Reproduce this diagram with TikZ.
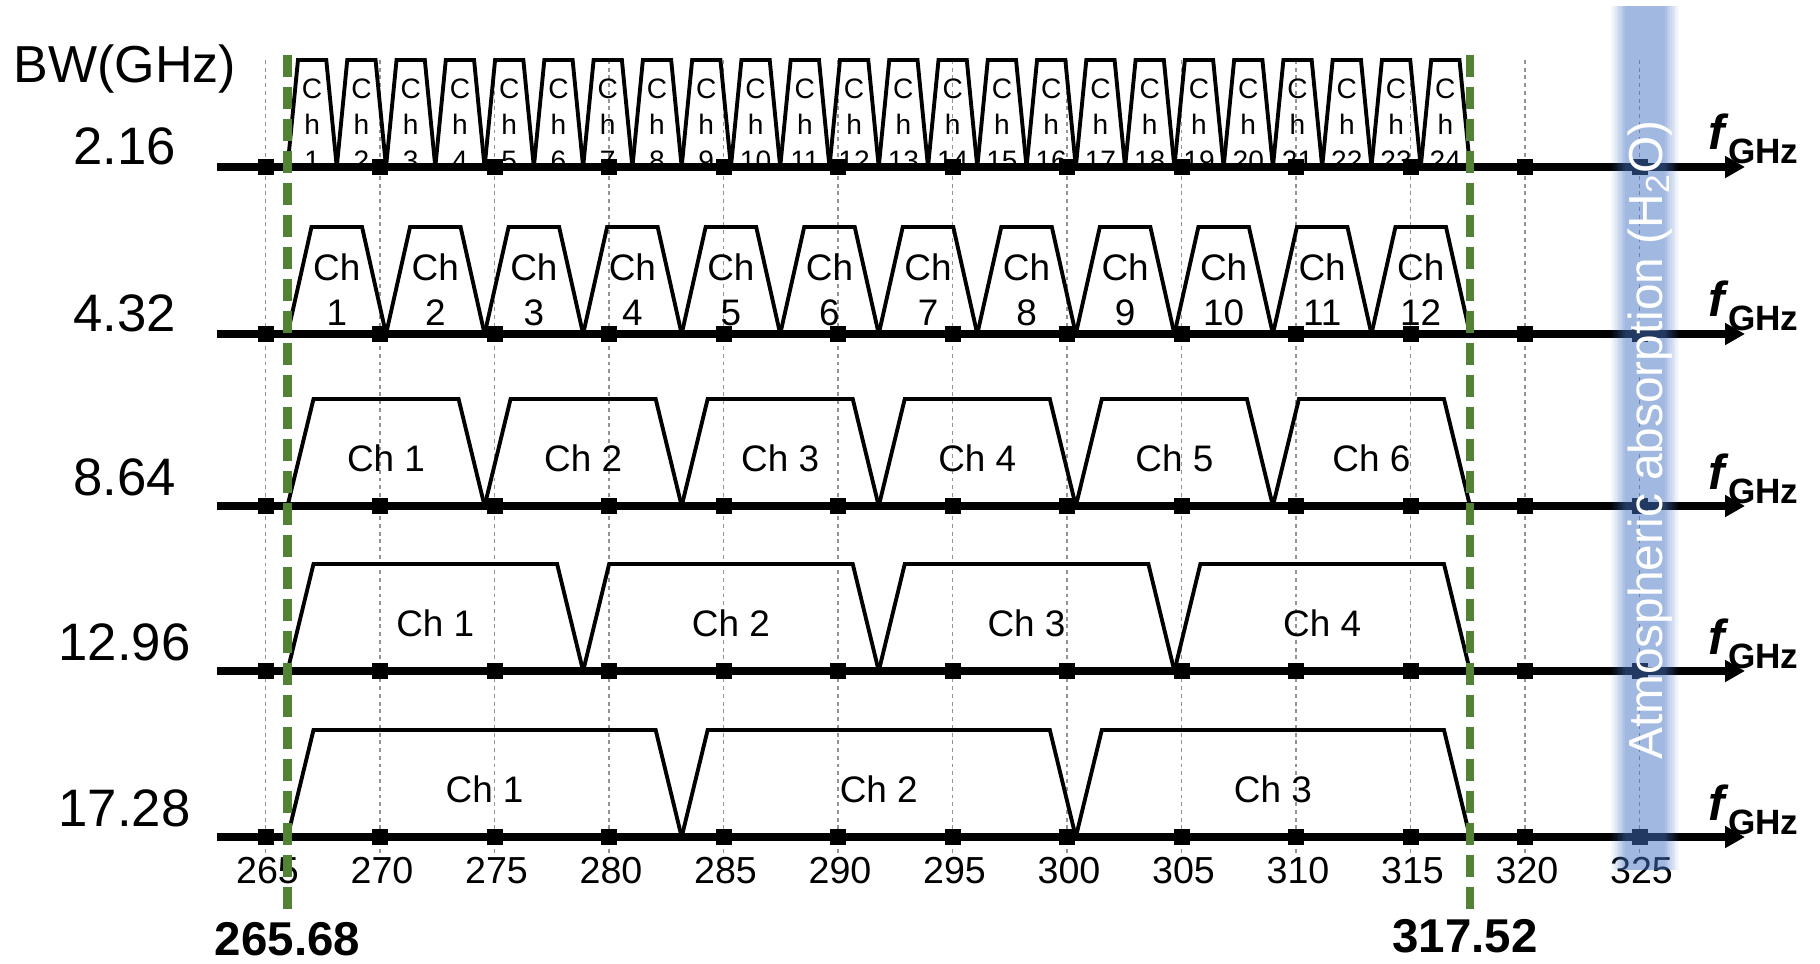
\documentclass[tikz,border=0pt]{standalone}
\usepackage{fontspec}
\setmainfont{Liberation Sans}
\usetikzlibrary{arrows.meta}
\definecolor{bandblue}{RGB}{68,114,196}
\definecolor{limitgreen}{RGB}{84,130,53}

\begin{document}
\begin{tikzpicture}[line join=miter,
  grid/.style={gray!85,line width=0.35pt,dash pattern=on 1.1pt off 1.1pt},
  chan/.style={line width=1.1pt},
  axisline/.style={line width=2pt,-{Triangle[length=0.2cm,width=0.21cm]}},
  limit/.style={limitgreen,line width=2.4pt,dash pattern=on 0.22cm off 0.10cm},
  bwlab/.style={inner sep=0,font=\fontsize{15}{15}\selectfont},
  chlab/.style={inner sep=0,font=\fontsize{10.5}{12.8}\selectfont,align=center},
  tinylab/.style={inner sep=0,font=\fontsize{8}{10.3}\selectfont,align=center},
  ticklab/.style={inner sep=0,font=\fontsize{10.7}{10.7}\selectfont},
  limlab/.style={inner sep=0,font=\fontsize{13.5}{13.5}\selectfont\bfseries}]
  \useasboundingbox (0,0) rectangle (18.2,-9.64);
  \def\xa{2.875}
  \def\xb{14.70}
  \def\hc{1.07}
  \foreach \f in {265,270,...,325} {
    \draw[grid] ({2.655+(\f-265)*0.229},-0.60) -- ({2.655+(\f-265)*0.229},-8.55);
  }
  % channels
  \foreach \row/\y/\n/\ins in {a/-1.67/24/0.105,b/-3.34/12/0.24,c/-5.06/6/0.26,d/-6.71/4/0.26,e/-8.37/3/0.26} {
    \pgfmathsetmacro\w{(\xb-\xa)/\n}
    \foreach \i in {1,...,\n} {
      \pgfmathsetmacro\xl{\xa+(\i-1)*\w}
      \draw[chan] (\xl,\y) -- ++(\ins,\hc) -- ++({\w-2*\ins},0) -- ++(\ins,-\hc);
    }
  }
  \pgfmathsetmacro\w{(\xb-\xa)/24}
  \foreach \i in {1,...,24} {
    \node[tinylab,anchor=north] (cha\i) at ({\xa+(\i-0.5)*\w},-0.78) {C\\h\\\i};
  }
  \pgfmathsetmacro\w{(\xb-\xa)/12}
  \foreach \i in {1,...,12} {
    \node[chlab,anchor=north] (chb\i) at ({\xa+(\i-0.5)*\w},-2.53) {Ch\\\i};
  }
  \foreach \row/\y/\n in {c/-5.06/6,d/-6.71/4,e/-8.37/3} {
    \pgfmathsetmacro\w{(\xb-\xa)/\n}
    \foreach \i in {1,...,\n} {
      \node[chlab,anchor=base] (ch\row\i) at ({\xa+(\i-0.5)*\w},\y+0.35) {Ch \i};
    }
  }
  % axes
  \foreach \row/\y/\bw/\dy in {a/-1.67/2.16/0.02,b/-3.34/4.32/0.02,c/-5.06/8.64/0.11,d/-6.71/12.96/0.11,e/-8.37/17.28/0.11} {
    \draw[axisline] (2.17,\y) -- (17.45,\y);
    \foreach \f in {265,270,...,325} {
      \fill ({2.655+(\f-265)*0.229-0.08},\y-0.08) rectangle ++(0.16,0.16);
    }
    \node[bwlab,anchor=base] (bw\row) at (1.245,\y+\dy) {\bw};
    \node[inner sep=0,anchor=base west] (f\row) at (17.08,\y+0.17)
      {\fontsize{14}{14}\selectfont\bfseries\itshape f\kern0.03cm\raisebox{-0.14cm}{\fontsize{10}{10}\selectfont\upshape GHz}};
  }
  \node[inner sep=0,anchor=base,font=\fontsize{14.8}{14.8}\selectfont] (bwhead) at (1.25,-0.82) {BW(GHz)};
  \foreach \f in {265,270,...,325} {
    \node[ticklab,anchor=base] (t\f) at ({2.675+(\f-265)*0.229},-8.83) {\f};
  }
  % band limits
  \draw[limit] (\xa,-0.55) -- (\xa,-9.10);
  \draw[limit] (\xb,-0.55) -- (\xb,-9.10);
  \node[limlab,anchor=base] (lo) at (\xa,-9.55) {265.68};
  \node[limlab,anchor=base] (hi) at (14.65,-9.52) {317.52};
  % absorption band
  \fill[bandblue,opacity=0.5] (16.25,-0.06) rectangle (16.65,-8.70);
  \foreach \k in {1,...,8} {
    \fill[bandblue,opacity={0.5*\k/9}] ({16.25-(9-\k)*0.017},-0.06) rectangle ++(0.017,-8.64);
    \fill[bandblue,opacity={0.5*\k/9}] ({16.65+(8-\k)*0.017},-0.06) rectangle ++(0.017,-8.64);
  }
  \node[inner sep=0,rotate=90,anchor=base,text=white,font=\fontsize{13.6}{13.6}\selectfont] (h2o) at (16.62,-4.40)
    {Atmospheric absorption (H\textsubscript{2}O)};
\end{tikzpicture}
\end{document}
